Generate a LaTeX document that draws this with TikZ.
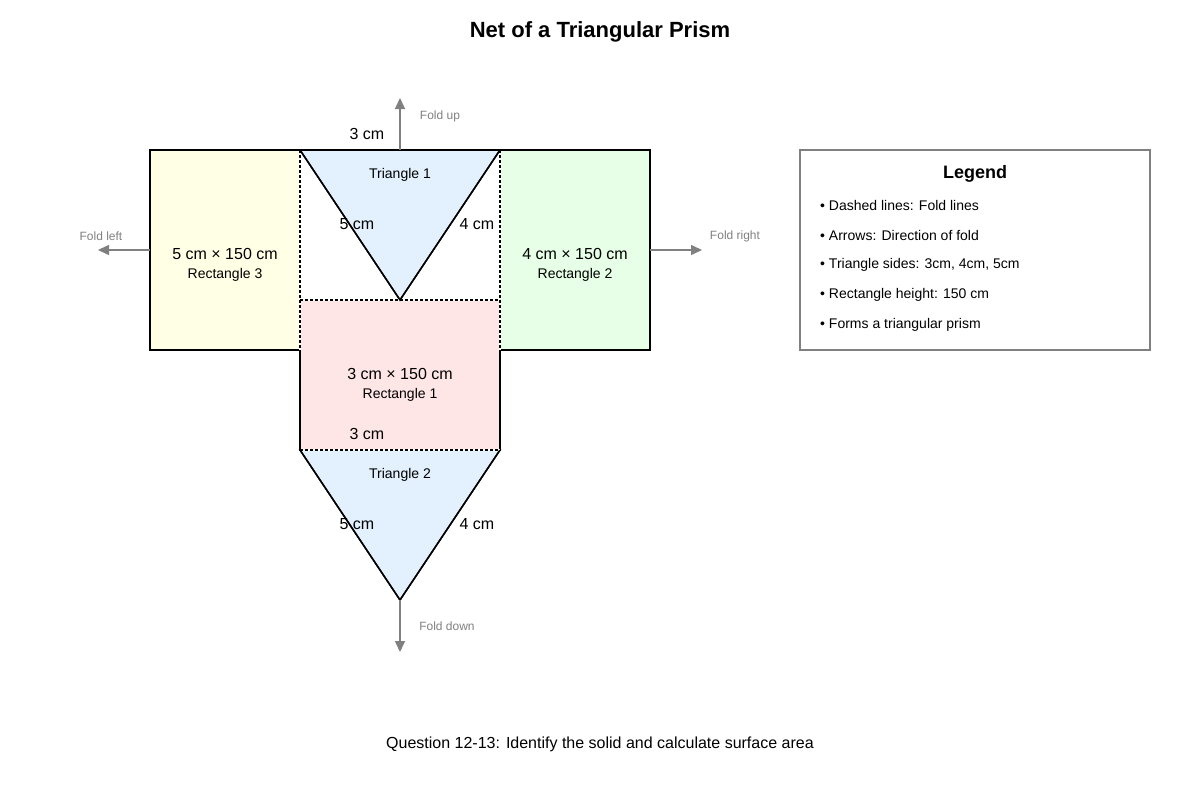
\documentclass[tikz,border=0pt]{standalone}
\usepackage{fontspec}
\setmainfont{Liberation Sans}
\usetikzlibrary{arrows.meta}
\definecolor{yel}{HTML}{FFFFE6}
\definecolor{grn}{HTML}{E6FFE6}
\definecolor{pnk}{HTML}{FFE6E6}
\definecolor{blu}{HTML}{E3F0FD}
\definecolor{gr}{HTML}{808080}
\begin{document}
\begin{tikzpicture}[x=1pt,y=-1pt,
 face/.style={draw=black,line width=1.5pt},
 fold/.style={draw=black,line width=1.5pt,dash pattern=on 3pt off 2pt},
 farr/.style={draw=gr,line width=1.5pt,-{Triangle[length=11pt,width=10pt]}},
 big/.style={font=\fontsize{16}{18}\selectfont,inner sep=0pt},
 sm/.style={font=\fontsize{14}{16}\selectfont,inner sep=0pt},
 fl/.style={font=\fontsize{12}{14}\selectfont,text=gr,inner sep=0pt},
 leg/.style={font=\fontsize{14}{16}\selectfont,inner sep=0pt,anchor=west}]
\useasboundingbox (0,0) rectangle (1200,800);
\node[font=\fontsize{22}{26}\selectfont\bfseries] (title) at (600,32) {Net of a Triangular Prism};
% faces
\path[face,fill=yel] (150,150) rectangle (300,350);
\path[face,fill=grn] (500,150) rectangle (650,350);
\path[face,fill=pnk] (300,300) rectangle (500,450);
\path[face,fill=white] (300,150) rectangle (500,300);
\path[face,fill=blu] (300,150) -- (500,150) -- (400,300) -- cycle;
\path[face,fill=blu] (300,450) -- (500,450) -- (400,600) -- cycle;
\draw[face] (150,150) -- (650,150);
% fold lines
\draw[draw=white,line width=1.5pt] (300,150) -- (300,350) (500,150) -- (500,350) (300,300) -- (500,300) (300,450) -- (500,450);
\path[fold] (300,150) -- (300,350) (500,150) -- (500,350) (300,300) -- (500,300) (300,450) -- (500,450);
\draw[face] (300,150) -- (400,300) -- (500,150);
\draw[face] (300,450) -- (400,600) -- (500,450);
% nodes
\coordinate (tu) at (400,150); \coordinate (au) at (400,98);
\coordinate (tl) at (150,250); \coordinate (al) at (98,250);
\coordinate (tr) at (650,250); \coordinate (ar) at (702,250);
\coordinate (td) at (400,600); \coordinate (ad) at (400,652);
\draw[farr] (tu) -- (au);
\draw[farr] (tl) -- (al);
\draw[farr] (tr) -- (ar);
\draw[farr] (td) -- (ad);
\node[fl] (fu) at (440,116) {Fold up};
\node[fl] (fle) at (101,236) {Fold left};
\node[fl] (fr) at (735,236) {Fold right};
\node[fl] (fd) at (447,626) {Fold down};
% labels
\node[big] (c1) at (367,134) {3 cm};
\node[sm] (t1) at (400,175) {Triangle 1};
\node[big] (a1) at (357,224) {5 cm};
\node[big] (b1) at (477,224) {4 cm};
\node[big] (r3) at (225,254) {5 cm × 150 cm};
\node[sm] (r3b) at (225,275) {Rectangle 3};
\node[big] (r2) at (575,254) {4 cm × 150 cm};
\node[sm] (r2b) at (575,275) {Rectangle 2};
\node[big] (r1) at (400,374) {3 cm × 150 cm};
\node[sm] (r1b) at (400,395) {Rectangle 1};
\node[big] (c2) at (367,434) {3 cm};
\node[sm] (t2) at (400,475) {Triangle 2};
\node[big] (a2) at (357,524) {5 cm};
\node[big] (b2) at (477,524) {4 cm};
% legend
\draw[draw=gr,line width=1.2pt,fill=white] (800,150) rectangle (1150,350);
\node[font=\fontsize{18}{20}\selectfont\bfseries] (lt) at (975,174) {Legend};
\node[leg] (l1) at (820,205) {• Dashed lines: Fold lines};
\node[leg] (l2) at (820,235) {• Arrows: Direction of fold};
\node[leg] (l3) at (820,265) {• Triangle sides: 3cm, 4cm, 5cm};
\node[leg] (l4) at (820,295) {• Rectangle height: 150 cm};
\node[leg] (l5) at (820,325) {• Forms a triangular prism};
\node[font=\fontsize{16}{18}\selectfont] (q) at (600,744) {Question 12-13: Identify the solid and calculate surface area};
\end{tikzpicture}
\end{document}
